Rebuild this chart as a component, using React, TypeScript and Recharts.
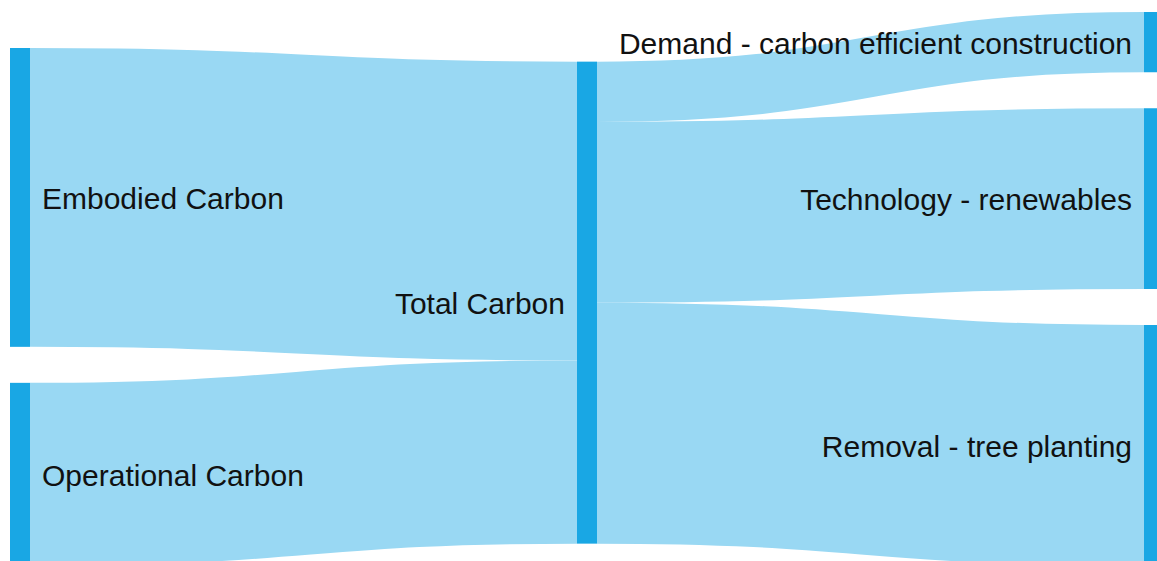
import React from "react";
import { Sankey } from "recharts";

const nodeNames = [
  "Embodied Carbon",
  "Operational Carbon",
  "Total Carbon",
  "Demand - carbon efficient construction",
  "Technology - renewables",
  "Removal - tree planting",
];

const linkSources = [0, 1, 2, 2, 2];
const linkTargets = [2, 2, 3, 4, 5];
const linkValues = [62, 38, 12.5, 37.5, 50];

const NODE_COLOR = "#19a7e4";
const LINK_COLOR = "#99d8f3";

const data = {
  nodes: nodeNames.map((name) => ({ name })),
  links: linkValues.map((value, i) => ({
    source: linkSources[i],
    target: linkTargets[i],
    value,
  })),
};

const CarbonNode = (props: any) => {
  const { x, y, width, height, payload } = props;
  const isLeft = payload.depth === 0;
  return (
    <g>
      <rect x={x} y={y} width={width} height={height} fill={NODE_COLOR} />
      <text
        x={isLeft ? x + width + 12 : x - 12}
        y={y + height / 2 + 1}
        textAnchor={isLeft ? "start" : "end"}
        dominantBaseline="central"
        fontSize={30}
        fontFamily="Arial, 'Liberation Sans', sans-serif"
        fill="#111"
      >
        {payload.name}
      </text>
    </g>
  );
};

export default function App() {
  return (
    <div
      style={{
        position: "fixed",
        top: 0,
        left: 0,
        width: 1157,
        height: 561,
        overflow: "hidden",
        background: "#fff",
      }}
    >
      <Sankey
        width={1164}
        height={570}
        data={data}
        nodeWidth={20}
        nodePadding={36}
        sort={false}
        margin={{ top: 12, left: 10, right: 0, bottom: 4 }}
        node={<CarbonNode />}
        link={{ stroke: LINK_COLOR, strokeOpacity: 1 }}
        iterations={32}
      />
    </div>
  );
}
